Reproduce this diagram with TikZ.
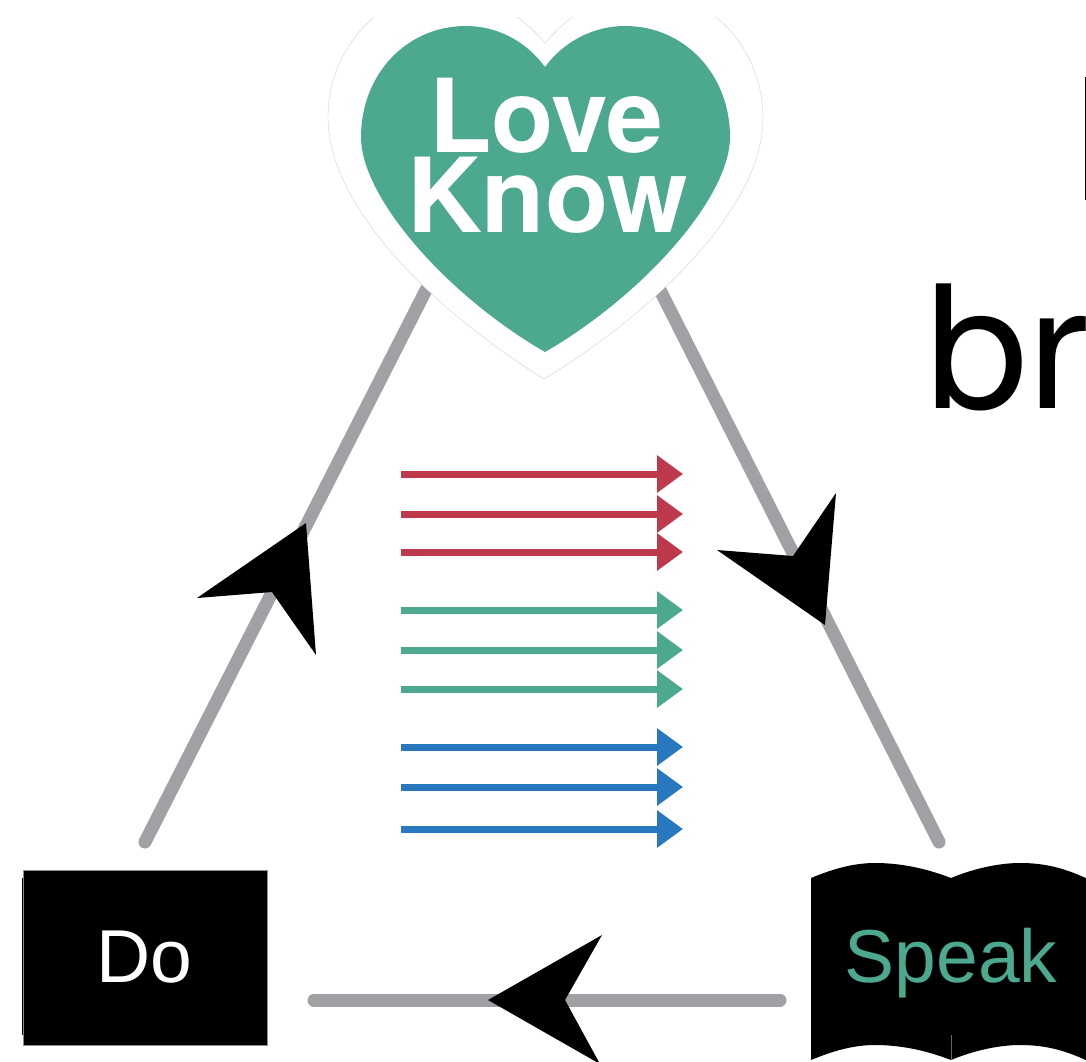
\documentclass[tikz,border=0pt]{standalone}
\usepackage{fontspec}
\setmainfont{Liberation Sans}
\newfontfamily\helv{TeX Gyre Heros}
\usetikzlibrary{arrows.meta}
\definecolor{teal1}{HTML}{4CA88F}
\definecolor{grayln}{HTML}{9FA1A4}
\definecolor{red1}{HTML}{BC3A4B}
\definecolor{blue1}{HTML}{2878C0}
\tikzset{
  loop/.style={draw=grayln,line width=13pt,line cap=round},
  flow/.style={line width=7pt,-{Triangle[length=26pt,width=36pt,inset=0pt]}},
  head/.style={fill=black,draw=none},
  big/.style={inner sep=0pt,font=\fontsize{171}{171}\selectfont\helv,anchor=base west},
  hearttext/.style={inner sep=0pt,anchor=base,text=white,font=\fontsize{102}{102}\selectfont\helv\bfseries}
}
\begin{document}
\begin{tikzpicture}[x=1pt,y=-1pt]
\clip (0,0) rectangle (1086,1061);
\fill[white] (0,0) rectangle (1086,1061);
% anchors for the connectors
\coordinate (doEnd) at (145,842);
\coordinate (heartL) at (426,290);
\coordinate (heartR) at (660,290);
\coordinate (speakEnd) at (939,842);
\coordinate (speakL) at (780,1000);
\coordinate (doR) at (314,1000);
% loop connectors
\draw[loop] (doEnd) -- (heartL);
\draw[loop] (heartR) -- (speakEnd);
\draw[loop] (speakL) -- (doR);
% arrowheads on the loop
\fill[head] (306,523) -- (197,598) -- (272,592) -- (316,655) -- cycle;
\fill[head] (825,625) -- (836,493) -- (793,556) -- (717,550) -- cycle;
\fill[head] (488,1000) -- (602,935) -- (565,1000) -- (600,1064) -- cycle;
% heart
\fill[white] (545,43) .. controls (575,8) and (610,-8) .. (645,-8)
  .. controls (712,-8) and (763,50) .. (763,118)
  .. controls (763,205) and (660,308) .. (544,379)
  .. controls (430,308) and (328,205) .. (328,118)
  .. controls (328,50) and (378,-8) .. (445,-8)
  .. controls (480,-8) and (515,8) .. (545,43) -- cycle;
\begin{scope}
\clip (0,17) rectangle (1086,1061);
\draw[line width=.4pt,draw=black!18] (545,43) .. controls (575,8) and (610,-8) .. (645,-8)
  .. controls (712,-8) and (763,50) .. (763,118)
  .. controls (763,205) and (660,308) .. (544,379)
  .. controls (430,308) and (328,205) .. (328,118)
  .. controls (328,50) and (378,-8) .. (445,-8)
  .. controls (480,-8) and (515,8) .. (545,43) -- cycle;
\end{scope}
\fill[teal1] (545,67) .. controls (565,40) and (595,26) .. (625,26)
  .. controls (685,26) and (730,75) .. (730,137)
  .. controls (730,198) and (642,296) .. (545,352)
  .. controls (448,296) and (361,198) .. (361,137)
  .. controls (361,75) and (406,26) .. (466,26)
  .. controls (496,26) and (525,40) .. (545,67) -- cycle;
\node[hearttext] (love) at (546,152) {Love};
\node[hearttext,font=\fontsize{103.5}{103.5}\selectfont\helv\bfseries] (know) at (547.5,232) {Know};
% row of arrows
\foreach \n/\y/\c in {r1/474/red1,r2/514/red1,r3/552/red1,g1/610/teal1,g2/650/teal1,g3/689/teal1,b1/747/blue1,b2/787/blue1,b3/829/blue1}{
  \coordinate (\n a) at (401,\y);
  \coordinate (\n b) at (683,\y);
  \draw[flow,draw=\c,fill=\c,color=\c] (\n a) -- (\n b);
}
% Do box
\fill[black] (22,878) rectangle (24,1035);
\node[draw=black!45,line width=.6pt,fill=black,minimum width=244pt,minimum height=175pt,inner sep=0pt,anchor=north west] (dobox) at (23,870) {};
\node[inner sep=0pt,anchor=base,text=white,font=\fontsize{75}{75}\selectfont] (do) at (144,982) {Do};
% Speak book
\fill[black] (811,878) .. controls (835,868) and (855,863) .. (875,863)
  .. controls (900,863) and (925,868) .. (951,878)
  .. controls (975,868) and (1000,863) .. (1020,863)
  .. controls (1045,863) and (1065,868) .. (1090,880)
  -- (1090,1062)
  .. controls (1065,1050) and (1045,1045) .. (1020,1045)
  .. controls (1000,1045) and (975,1050) .. (951,1060)
  .. controls (925,1050) and (900,1045) .. (875,1045)
  .. controls (855,1045) and (835,1050) .. (811,1060) -- cycle;
\draw[draw=black!60,line width=.6pt] (951,1035) -- (951,1060);
\node[inner sep=0pt,anchor=base,text=teal1,font=\fontsize{75}{75}\selectfont] (speak) at (951,982) {Speak};
% partial text running off the page
\node[big] (br) at (926,408) {\scalebox{1.07}[1]{br}};
\fill[black] (1084.5,77) rectangle (1086,200);
\end{tikzpicture}
\end{document}
